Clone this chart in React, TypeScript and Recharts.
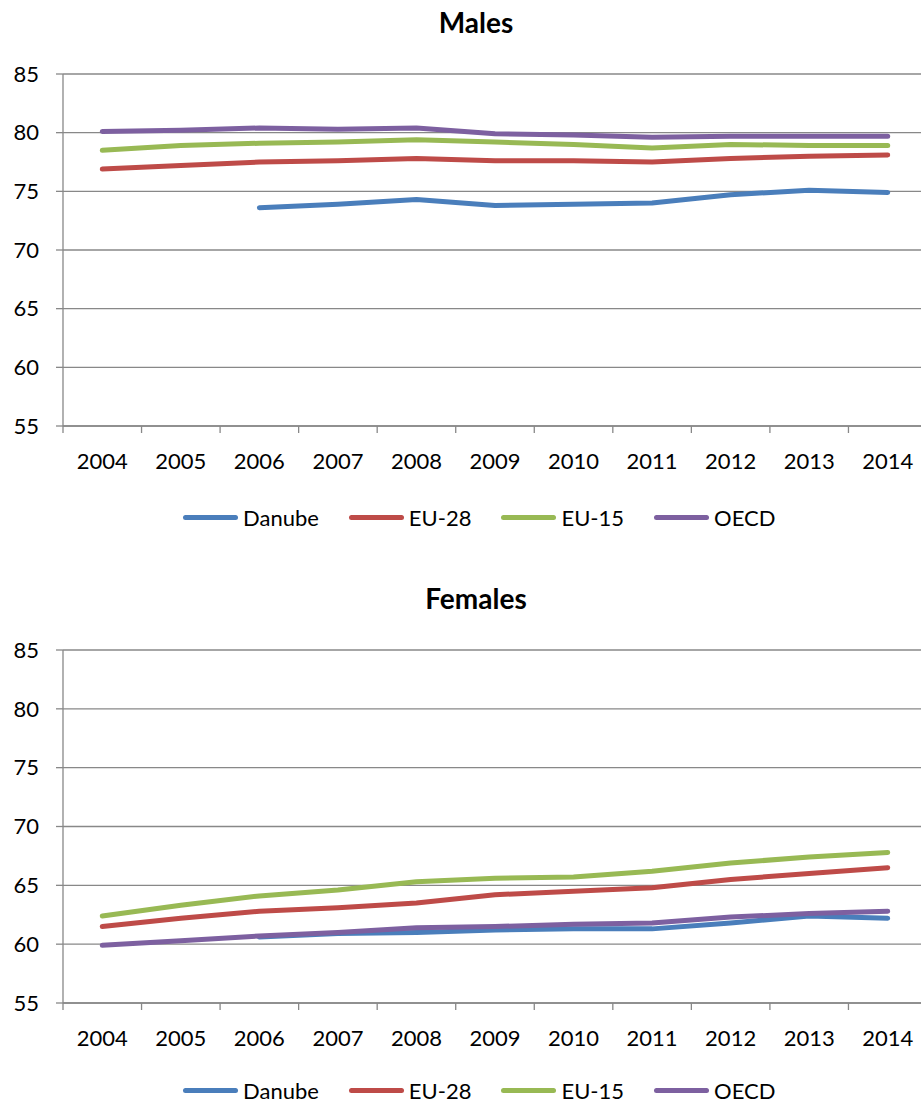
import { LineChart, Line, XAxis, YAxis, CartesianGrid } from 'recharts';

const YEARS = ['2004', '2005', '2006', '2007', '2008', '2009', '2010', '2011', '2012', '2013', '2014'];
const Y_TICKS = [55, 60, 65, 70, 75, 80, 85];

// Males
const M_DANUBE = [null, null, 73.6, 73.9, 74.3, 73.8, 73.9, 74.0, 74.7, 75.1, 74.9];
const M_EU28 = [76.9, 77.2, 77.5, 77.6, 77.8, 77.6, 77.6, 77.5, 77.8, 78.0, 78.1];
const M_EU15 = [78.5, 78.9, 79.1, 79.2, 79.4, 79.2, 79.0, 78.7, 79.0, 78.9, 78.9];
const M_OECD = [80.1, 80.2, 80.4, 80.3, 80.4, 79.9, 79.8, 79.6, 79.7, 79.7, 79.7];

// Females
const F_DANUBE = [null, null, 60.6, 60.9, 61.0, 61.2, 61.3, 61.3, 61.8, 62.4, 62.2];
const F_EU28 = [61.5, 62.2, 62.8, 63.1, 63.5, 64.2, 64.5, 64.8, 65.5, 66.0, 66.5];
const F_EU15 = [62.4, 63.3, 64.1, 64.6, 65.3, 65.6, 65.7, 66.2, 66.9, 67.4, 67.8];
const F_OECD = [59.9, 60.3, 60.7, 61.0, 61.4, 61.5, 61.7, 61.8, 62.3, 62.6, 62.8];

const SERIES = [
  { key: 'Danube', color: '#4A7EBB' },
  { key: 'EU-28', color: '#BE4B48' },
  { key: 'EU-15', color: '#98B954' },
  { key: 'OECD', color: '#7D60A0' },
];

const buildRows = (danube: (number | null)[], eu28: number[], eu15: number[], oecd: number[]) =>
  YEARS.map((year, i) => ({
    i,
    year,
    Danube: danube[i],
    'EU-28': eu28[i],
    'EU-15': eu15[i],
    OECD: oecd[i],
  }));

const maleData = buildRows(M_DANUBE, M_EU28, M_EU15, M_OECD);
const femaleData = buildRows(F_DANUBE, F_EU28, F_EU15, F_OECD);

const FONT = 'Lato, "Open Sans", sans-serif';
const GRID = '#888888';
const Y_AXIS_W = 63;
const CHART_W = 927;
const PLOT_W = CHART_W - Y_AXIS_W;
// boundaries between categories, where Excel puts the tick marks
const X_TICKS = YEARS.map((_, i) => i - 0.5);

function YearTick({ x, y, payload }: any) {
  const idx = Math.round(payload.value + 0.5);
  const half = PLOT_W / YEARS.length / 2;
  if (idx < 0 || idx >= YEARS.length) return null;
  return (
    <text x={x + half} y={y} dy="0.71em" textAnchor="middle" fill="#000" fontSize={22} fontFamily={FONT}>
      {YEARS[idx]}
    </text>
  );
}

function Panel({ title, top, data, chartH, legendTop }: any) {
  return (
    <div style={{ position: 'absolute', left: 0, top, width: CHART_W, height: 560 }}>
      <div
        style={{
          position: 'absolute',
          left: 0,
          top: 6,
          width: 952,
          textAlign: 'center',
          fontFamily: FONT,
          fontWeight: 700,
          fontSize: 28,
          lineHeight: '32px',
          color: '#000',
        }}
      >
        {title}
      </div>
      <LineChart width={CHART_W} height={chartH} data={data} margin={{ top: 74, right: 0, left: 0, bottom: 0 }}>
        <CartesianGrid vertical={false} stroke={GRID} strokeWidth={1.3} />
        <XAxis
          dataKey="i"
          type="number"
          domain={[-0.5, YEARS.length - 0.5]}
          ticks={X_TICKS}
          allowDataOverflow
          height={64}
          tickSize={7}
          tickMargin={20}
          stroke={GRID}
          tickLine={{ stroke: GRID, strokeWidth: 1.3 }}
          axisLine={{ stroke: GRID, strokeWidth: 1.3 }}
          tick={<YearTick />}
        />
        <YAxis
          domain={[55, 85]}
          ticks={Y_TICKS}
          width={Y_AXIS_W}
          tickSize={7}
          tickMargin={17}
          stroke={GRID}
          tickLine={{ stroke: GRID, strokeWidth: 1.3 }}
          axisLine={{ stroke: GRID, strokeWidth: 1.3 }}
          tick={{ fill: '#000', fontSize: 22, fontFamily: FONT }}
        />
        {SERIES.map((s) => (
          <Line
            key={s.key}
            dataKey={s.key}
            type="linear"
            stroke={s.color}
            strokeWidth={5}
            strokeLinecap="round"
            strokeLinejoin="round"
            dot={false}
            activeDot={false}
            isAnimationActive={false}
          />
        ))}
      </LineChart>
      <div
        style={{
          position: 'absolute',
          left: 183,
          top: legendTop,
          display: 'flex',
          alignItems: 'center',
          gap: 30,
          fontFamily: FONT,
          fontSize: 22,
          color: '#000',
          whiteSpace: 'nowrap',
        }}
      >
        {SERIES.map((s) => (
          <div key={s.key} style={{ display: 'flex', alignItems: 'center' }}>
            <span
              style={{ display: 'inline-block', width: 55, height: 5, borderRadius: 3, background: s.color, marginRight: 5 }}
            />
            <span>{s.key}</span>
          </div>
        ))}
      </div>
    </div>
  );
}

export default function App() {
  return (
    <div style={{ position: 'absolute', left: 0, top: 0, width: 921, height: 1106, overflow: 'hidden', background: '#fff' }}>
      <Panel title="Males" top={0} data={maleData} chartH={490} legendTop={504} />
      <Panel title="Females" top={576} data={femaleData} chartH={491} legendTop={501} />
    </div>
  );
}
